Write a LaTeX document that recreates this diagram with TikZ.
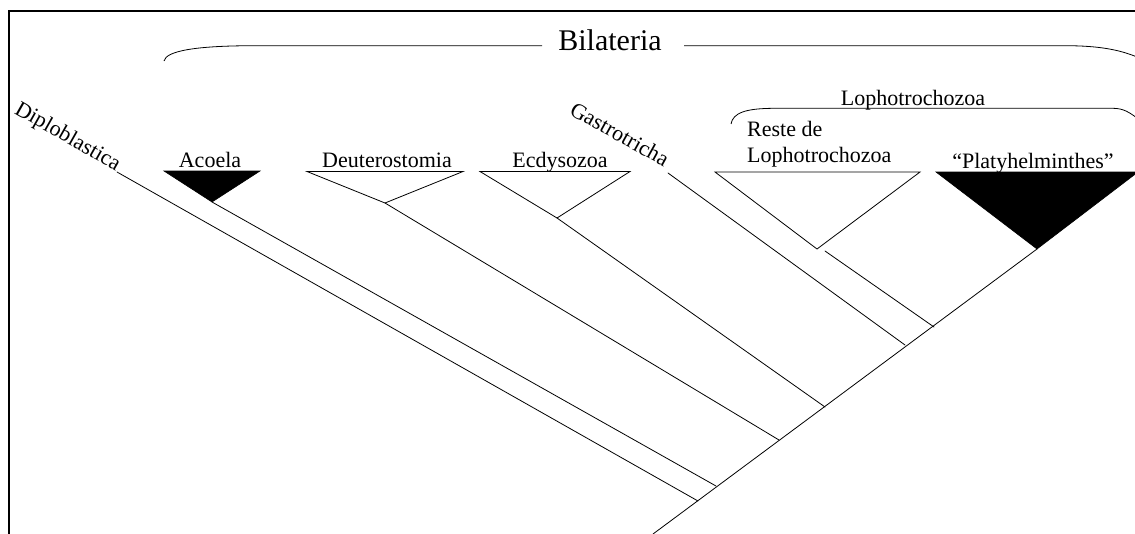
\documentclass[tikz,border=0pt]{standalone}
\usepackage{fontspec}
\setmainfont{Liberation Serif}
\begin{document}
\begin{tikzpicture}[x=1pt,y=-1pt,
  branch/.style={line width=0.8pt, line cap=round},
  cladeopen/.style={line width=0.8pt, line join=miter},
  cladefull/.style={fill=black, draw=black, line width=0.6pt},
  brace/.style={line width=0.8pt},
  frameline/.style={line width=2pt},
  taxon/.style={inner sep=0pt, font=\fontsize{22}{25}\selectfont},
  bigtaxon/.style={inner sep=0pt, font=\fontsize{30}{34}\selectfont}]
\useasboundingbox (0,0) rectangle (1135,533);
\clip (0,0) rectangle (1135,533);

% frame (top and left edges)
\coordinate (frame-tr) at (1136,11);
\coordinate (frame-tl) at (9,11);
\coordinate (frame-bl) at (9,534);
\draw[frameline] (frame-tr) -- (frame-tl) -- (frame-bl);

% tips of the clades
\coordinate (acoela-l) at (164,171);  \coordinate (acoela-r) at (260,171);  \coordinate (acoela-tip) at (212,202);
\coordinate (deut-l) at (307,171.5);  \coordinate (deut-r) at (463,171.5);  \coordinate (deut-tip) at (385,203);
\coordinate (ecdy-l) at (480,171.5);  \coordinate (ecdy-r) at (630,171.5);  \coordinate (ecdy-tip) at (557,218);
\coordinate (reste-l) at (715,172);   \coordinate (reste-r) at (920,172);   \coordinate (reste-tip) at (817,249);
\coordinate (plat-l) at (936,172);    \coordinate (plat-r) at (1138,172);   \coordinate (plat-tip) at (1037,249);
\coordinate (diplo-tip) at (117,172);
\coordinate (gastro-tip) at (668,173);
\coordinate (reste-stem) at (825,251);

% nodes on the backbone
\coordinate (root) at (653,534);
\coordinate (j-diplo) at (698,501);
\coordinate (j-acoela) at (716,486);
\coordinate (j-deut) at (779,440);
\coordinate (j-ecdy) at (825,407);
\coordinate (j-gastro) at (905,345);
\coordinate (j-reste) at (934,327);

% collapsed clades
\fill[cladefull] (acoela-l) -- (acoela-r) -- (acoela-tip) -- cycle;
\draw[cladeopen] (deut-tip) -- (deut-l) -- (deut-r) -- cycle;
\draw[cladeopen] (ecdy-tip) -- (ecdy-l) -- (ecdy-r) -- cycle;
\draw[cladeopen] (reste-tip) -- (reste-l) -- (reste-r) -- cycle;
\fill[cladefull] (plat-l) -- (plat-r) -- (plat-tip) -- cycle;

% backbone and branches
\draw[branch] (root) -- (plat-tip);
\draw[branch] (diplo-tip) -- (j-diplo);
\draw[branch] (acoela-tip) -- (j-acoela);
\draw[branch] (deut-tip) -- (j-deut);
\draw[branch] (ecdy-tip) -- (j-ecdy);
\draw[branch] (gastro-tip) -- (j-gastro);
\draw[branch] (reste-stem) -- (j-reste);

% taxon labels
\node[taxon, anchor=base] (acoela) at (210,167) {Acoela};
\node[taxon, anchor=base] (deut) at (387,167) {Deuterostomia};
\node[taxon, anchor=base] (ecdy) at (560,167) {Ecdysozoa};
\node[taxon, anchor=base] (plat) at (1033,168) {“Platyhelminthes”};
\node[taxon, anchor=base west, align=left] (reste) at (747,162) {Reste de\\[1pt]Lophotrochozoa};
\node[taxon, anchor=base east, rotate=-29.5] (diplo) at (116,171) {Diploblastica};
\node[taxon, anchor=base east, rotate=-29] (gastro) at (664,167) {Gastrotricha};

% Lophotrochozoa bracket
\node[taxon, anchor=base] (lopho) at (913,105) {Lophotrochozoa};
\coordinate (lb-l) at (731,124);
\coordinate (lb-r) at (1137,118);
\draw[brace] (lb-l) .. controls (733,113) and (745,108.3) .. (775,108.3)
  -- (1113,108.3) .. controls (1124,108.3) and (1130,113) .. (lb-r);

% Bilateria bracket
\node[bigtaxon, anchor=base] (bila) at (610,50) {Bilateria};
\coordinate (bb-l) at (164,61);
\coordinate (bb-r) at (1137,57);
\draw[brace] (bb-l) .. controls (166,51) and (195,45.7) .. (255,45.7)
  -- (542,45.7);
\draw[brace] (684,45.7) -- (1065,45.7) .. controls (1100,45.7) and (1120,50) .. (bb-r);
\end{tikzpicture}
\end{document}
